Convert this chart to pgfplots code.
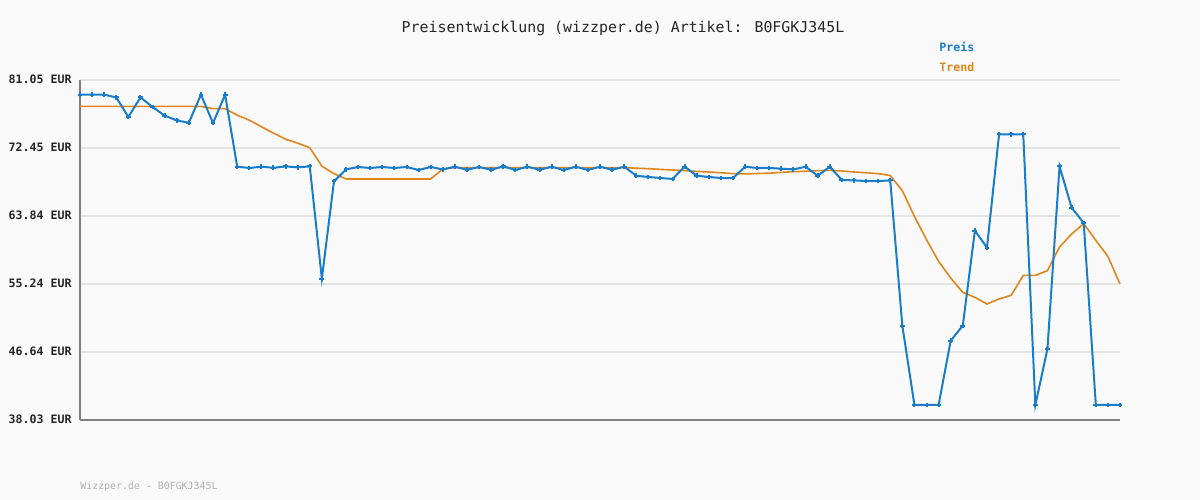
\documentclass[border=0pt]{standalone}
\usepackage{pgfplots}
\pgfplotsset{compat=1.18}
\usepackage{fontspec}
\setmainfont{DejaVu Sans Mono}
\definecolor{bg}{HTML}{FAFAFA}
\definecolor{preis}{HTML}{1A7DCA}
\definecolor{trend}{HTML}{E0861A}
\definecolor{gridc}{HTML}{E4E4E4}
\definecolor{axc}{HTML}{7F7F7F}
\definecolor{foot}{HTML}{B0B0B0}

\begin{document}
\begin{tikzpicture}
\fill[bg] (0,0) rectangle (600bp,250bp);
\begin{axis}[at={(40bp,40.15bp)},anchor=south west,scale only axis,
 width=520bp,height=170bp,xmin=0,xmax=86,ymin=38.03,ymax=81.05,
 axis lines=left,axis line style={-,axc,line width=1bp},
 xtick=\empty,ytick={38.03,46.634,55.238,63.842,72.446,81.05},
 yticklabels={38.03 EUR,46.64 EUR,55.24 EUR,63.84 EUR,72.45 EUR,81.05 EUR},
 major tick length=0pt,
 yticklabel style={font=\bfseries\fontsize{5.8bp}{7bp}\selectfont,text=black!85,inner sep=0pt,xshift=-4bp},
 ymajorgrids,grid style={gridc,line width=1bp},
 clip=false]
\addplot[trend,line width=0.8bp] coordinates {
(0,77.67)(1,77.67)(2,77.67)(3,77.67)(4,77.67)(5,77.67)(6,77.67)(7,77.67)(8,77.67)(9,77.67)
(10,77.67)(11,77.38)(12,77.38)(13,76.56)(14,75.93)(15,75.10)(16,74.28)(17,73.52)(18,73.02)(19,72.45)
(20,70.11)(21,69.16)(22,68.49)(23,68.49)(24,68.49)(25,68.49)(26,68.49)(27,68.49)(28,68.49)(29,68.49)
(30,69.75)(31,69.93)(32,69.93)(33,69.93)(34,69.93)(35,69.93)(36,69.93)(37,69.93)(38,69.93)(39,69.93)
(40,69.93)(41,69.93)(42,69.93)(43,69.93)(44,69.93)(45,69.93)(46,69.85)(47,69.79)(48,69.70)(49,69.63)
(50,69.54)(51,69.45)(52,69.37)(53,69.28)(54,69.16)(55,69.13)(56,69.18)(57,69.22)(58,69.32)(59,69.41)
(60,69.47)(61,69.54)(62,69.58)(63,69.50)(64,69.37)(65,69.28)(66,69.16)(67,68.93)(68,67.01)(69,63.76)
(70,60.81)(71,58.06)(72,55.96)(73,54.14)(74,53.51)(75,52.67)(76,53.31)(77,53.76)(78,56.29)(79,56.29)
(80,56.89)(81,59.88)(82,61.53)(83,62.83)(84,60.72)(85,58.69)(86,55.20)};
\addplot[preis,line width=1bp,mark=+,mark size=1.2bp,mark options={line width=1bp}] coordinates {
(0,79.15)(1,79.15)(2,79.15)(3,78.81)(4,76.33)(5,78.81)(6,77.60)(7,76.50)(8,75.90)(9,75.60)
(10,79.15)(11,75.57)(12,79.15)(13,70.04)(14,69.88)(15,70.04)(16,69.90)(17,70.08)(18,69.96)(19,70.08)
(20,55.87)(21,68.18)(22,69.70)(23,70.00)(24,69.88)(25,70.00)(26,69.88)(27,70.00)(28,69.63)(29,70.00)
(30,69.70)(31,70.04)(32,69.66)(33,70.00)(34,69.66)(35,70.08)(36,69.63)(37,70.04)(38,69.66)(39,70.04)
(40,69.63)(41,70.04)(42,69.63)(43,70.04)(44,69.66)(45,70.04)(46,68.90)(47,68.74)(48,68.61)(49,68.49)
(50,70.06)(51,68.90)(52,68.74)(53,68.61)(54,68.61)(55,70.04)(56,69.88)(57,69.88)(58,69.79)(59,69.70)
(60,70.04)(61,68.90)(62,70.04)(63,68.36)(64,68.31)(65,68.23)(66,68.23)(67,68.30)(68,49.93)(69,39.90)
(70,39.90)(71,39.90)(72,48.03)(73,49.93)(74,61.95)(75,59.80)(76,74.13)(77,74.13)(78,74.13)(79,39.90)
(80,46.98)(81,70.08)(82,64.86)(83,62.92)(84,39.90)(85,39.90)(86,39.90)};
\end{axis}
\node[font=\fontsize{7.45bp}{9bp}\selectfont,text=black!85] at (311.5bp,235.85bp) {Preisentwicklung (wizzper.de) Artikel: B0FGKJ345L};
\node[font=\bfseries\fontsize{5.8bp}{7bp}\selectfont,text=preis,anchor=west,inner sep=0pt] at (469.5bp,226.35bp) {Preis};
\node[font=\bfseries\fontsize{5.8bp}{7bp}\selectfont,text=trend,anchor=west,inner sep=0pt] at (469.5bp,216.65bp) {Trend};
\node[font=\fontsize{4.95bp}{6bp}\selectfont,text=foot,anchor=west,inner sep=0pt] at (40bp,6.5bp) {Wizzper.de - B0FGKJ345L};
\end{tikzpicture}
\end{document}
